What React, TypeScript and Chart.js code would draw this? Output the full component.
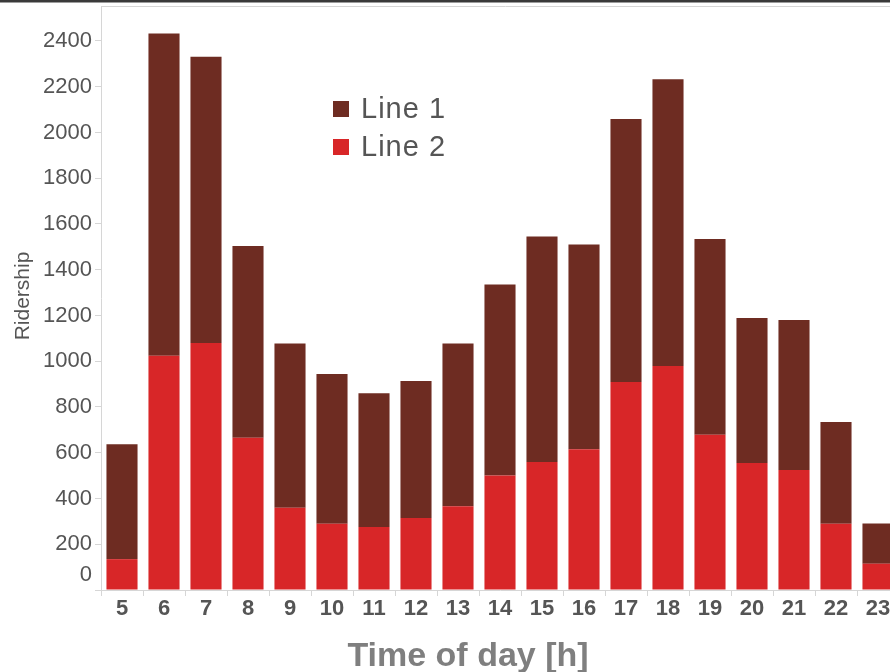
import { useEffect, useRef } from "react";
import { Chart, registerables } from "chart.js";

Chart.register(...registerables);

// Hour of day for each bar
const hours = ["5", "6", "7", "8", "9", "10", "11", "12", "13", "14", "15", "16", "17", "18", "19", "20", "21", "22", "23"];

// Riders per hour, Line 2 (bottom segment)
const line2 = [135, 1024, 1080, 666, 360, 290, 275, 315, 366, 500, 560, 615, 909, 979, 679, 555, 525, 290, 115];

// Riders per hour, Line 1 (stacked on top of Line 2)
const line1 = [502, 1409, 1251, 838, 718, 654, 585, 599, 712, 835, 985, 895, 1150, 1254, 855, 634, 655, 444, 176];

const yTickValues = [0, 200, 400, 600, 800, 1000, 1200, 1400, 1600, 1800, 2000, 2200, 2400];

const seriesNames = ["Line 1", "Line 2"];
const seriesColors = ["#6e2c22", "#d82628"];

const FONT = '"Liberation Sans", Arial, Helvetica, sans-serif';
const TEXT = "#555555";
const AXIS = "#d6d6d6";

const decorations = {
  id: "decorations",
  afterDraw(chart: any) {
    const { ctx, chartArea, scales } = chart;
    const y = scales.y;
    ctx.save();

    // dark band along the top edge
    ctx.fillStyle = "#3a3a3a";
    ctx.fillRect(0, 0, chart.width, 2.5);

    // light frame line above the plot
    ctx.strokeStyle = AXIS;
    ctx.lineWidth = 1;
    ctx.beginPath();
    ctx.moveTo(chartArea.left, Math.round(chartArea.top) + 0.5);
    ctx.lineTo(chart.width, Math.round(chartArea.top) + 0.5);
    ctx.stroke();

    // y tick labels (the zero label sits a little above the baseline)
    ctx.font = `22px ${FONT}`;
    ctx.fillStyle = TEXT;
    ctx.textAlign = "right";
    ctx.textBaseline = "middle";
    yTickValues.forEach((v) => {
      let py = y.getPixelForValue(v);
      if (v === 0) py -= 15;
      ctx.fillText(String(v), chartArea.left - 9, py);
    });

    // y axis title
    ctx.save();
    ctx.translate(23, (chartArea.top + chartArea.bottom) / 2 - 2);
    ctx.rotate(-Math.PI / 2);
    ctx.textAlign = "center";
    ctx.textBaseline = "middle";
    ctx.font = `21px ${FONT}`;
    ctx.fillStyle = TEXT;
    ctx.fillText("Ridership", 0, 0);
    ctx.restore();

    // x axis title
    ctx.font = `bold 34px ${FONT}`;
    ctx.fillStyle = "#7f7f7f";
    ctx.textAlign = "center";
    ctx.textBaseline = "alphabetic";
    ctx.fillText("Time of day [h]", 468, 666);

    // legend
    ctx.font = `29px ${FONT}`;
    (ctx as any).letterSpacing = "1px";
    ctx.textAlign = "left";
    ctx.textBaseline = "middle";
    seriesNames.forEach((name, i) => {
      const top = 101 + i * 38;
      ctx.fillStyle = seriesColors[i];
      ctx.fillRect(333, top, 16, 16);
      ctx.fillStyle = TEXT;
      ctx.fillText(name, 361, top + 9);
    });
    (ctx as any).letterSpacing = "0px";

    ctx.restore();
  },
};

export default function App() {
  const canvasRef = useRef<HTMLCanvasElement | null>(null);

  useEffect(() => {
    const canvas = canvasRef.current;
    if (!canvas) return;
    const chart = new Chart(canvas, {
      type: "bar",
      data: {
        labels: hours,
        datasets: [
          {
            label: seriesNames[1],
            data: line2,
            backgroundColor: seriesColors[1],
            borderWidth: 0,
          },
          {
            label: seriesNames[0],
            data: line1,
            backgroundColor: seriesColors[0],
            borderWidth: 0,
          },
        ],
      },
      options: {
        responsive: false,
        animation: false,
        layout: { padding: { top: 6, right: 11, left: 0, bottom: 0 } },
        datasets: { bar: { categoryPercentage: 1, barPercentage: 0.74 } },
        plugins: {
          legend: { display: false },
          tooltip: { enabled: false },
          title: { display: false },
        },
        scales: {
          x: {
            stacked: true,
            offset: true,
            grid: {
              display: true,
              offset: true,
              drawOnChartArea: false,
              drawTicks: true,
              tickLength: 6,
              color: AXIS,
            },
            border: { display: true, color: AXIS },
            ticks: {
              color: TEXT,
              font: { family: FONT, size: 22, weight: "bold" },
              padding: 0,
              maxRotation: 0,
              autoSkip: false,
            },
            afterFit(scale: any) {
              scale.height = 82;
            },
          },
          y: {
            stacked: true,
            min: 0,
            max: 2553,
            grid: {
              display: true,
              drawOnChartArea: false,
              drawTicks: true,
              tickLength: 6,
              color: AXIS,
            },
            border: { display: true, color: AXIS },
            ticks: { display: false, stepSize: 200 },
            afterBuildTicks(scale: any) {
              scale.ticks = yTickValues.map((v) => ({ value: v }));
            },
            afterFit(scale: any) {
              scale.width = 101;
            },
          },
        },
      },
      plugins: [decorations],
    });
    return () => chart.destroy();
  }, []);

  return (
    <div
      style={{
        position: "absolute",
        left: 0,
        top: 0,
        width: 890,
        height: 672,
        overflow: "hidden",
        background: "#ffffff",
      }}
    >
      <canvas ref={canvasRef} width={910} height={672} style={{ display: "block" }} />
    </div>
  );
}
